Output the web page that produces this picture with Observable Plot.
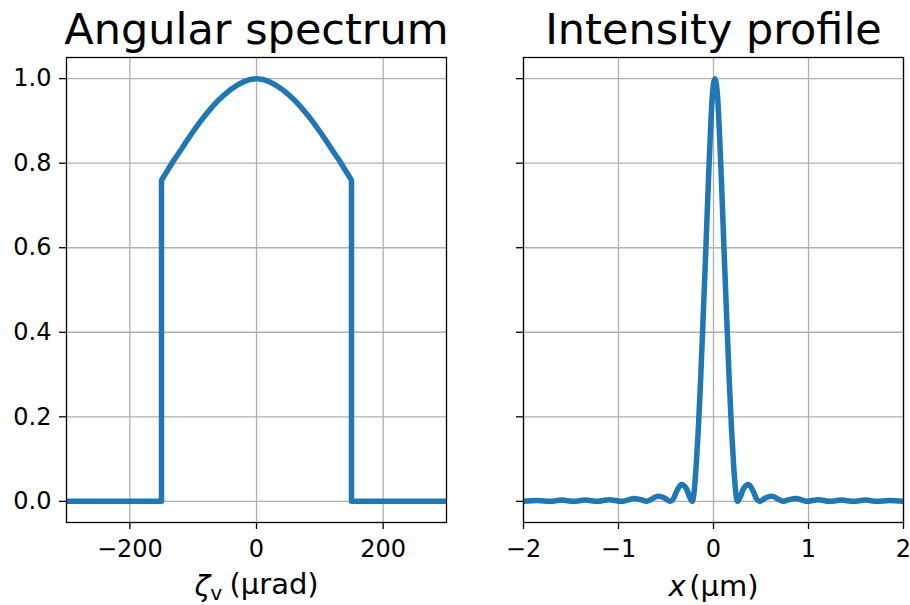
<!DOCTYPE html>
<html>
<head>
<meta charset="utf-8">
<script src="https://cdn.jsdelivr.net/npm/d3@7"></script>
<script src="https://cdn.jsdelivr.net/npm/@observablehq/plot@0.6"></script>
<style>
  html, body { margin: 0; padding: 0; background: white; }
  #wrap { position: relative; width: 910px; height: 605px; background: white; overflow: hidden; }
  .panel { position: absolute; top: 0; }
</style>
</head>
<body>
<div id="wrap">
  <div id="left" class="panel" style="left:0px"></div>
  <div id="right" class="panel" style="left:455px"></div>
</div>
<script>
// ---- Data ----
const leftTitle = "Angular spectrum";
const rightTitle = "Intensity profile";

// Angular spectrum: angle (µrad) and amplitude
const angleX = [-300, -150, -150, -140, -130, -120, -110, -100, -90, -80, -70, -60, -50, -40, -30, -20, -10, 0,
                10, 20, 30, 40, 50, 60, 70, 80, 90, 100, 110, 120, 130, 140, 150, 150, 300];
const angleY = [0, 0, 0.76, 0.784, 0.808, 0.83, 0.853, 0.875, 0.896, 0.915, 0.933, 0.949, 0.963, 0.975, 0.985, 0.993, 0.998, 1.0,
                0.998, 0.993, 0.985, 0.975, 0.963, 0.949, 0.933, 0.915, 0.896, 0.875, 0.853, 0.83, 0.808, 0.784, 0.76, 0, 0];

// Intensity profile: position (µm) and intensity
const posX = [-2.0, -1.85, -1.72, -1.6, -1.47, -1.35, -1.22, -1.1, -0.97, -0.905, -0.835, -0.765, -0.705,
              -0.585, -0.515, -0.455, -0.425, -0.385, -0.34, -0.285, -0.255, -0.225, -0.205, -0.185, -0.16,
              -0.135, -0.11, -0.085, -0.06, -0.035, -0.015, 0.015,
              0.045, 0.065, 0.09, 0.115, 0.14, 0.165, 0.19, 0.215, 0.235, 0.255, 0.285, 0.315, 0.37, 0.415,
              0.455, 0.485, 0.545, 0.615, 0.685, 0.735, 0.795, 0.865, 0.935, 0.985, 1.1, 1.22, 1.35, 1.47,
              1.6, 1.72, 1.85, 2.0];
const intensity = [0.0, 0.002, 0.0, 0.003, 0.0, 0.003, 0.0, 0.004, 0.0, 0.003, 0.007, 0.004, 0.0,
                   0.012, 0.008, 0.0, 0.005, 0.025, 0.04, 0.03, 0.012, 0.0, 0.02, 0.075, 0.17,
                   0.29, 0.43, 0.57, 0.72, 0.86, 0.95, 1.0,
                   0.95, 0.86, 0.72, 0.57, 0.43, 0.29, 0.17, 0.075, 0.02, 0.0, 0.012, 0.03, 0.04, 0.025,
                   0.005, 0.0, 0.008, 0.012, 0.005, 0.0, 0.004, 0.007, 0.003, 0.0, 0.004, 0.0, 0.003, 0.0,
                   0.003, 0.0, 0.002, 0.0];

const leftXTicks = [-200, 0, 200];
const rightXTicks = [-2, -1, 0, 1, 2];
const yTicks = [0, 0.2, 0.4, 0.6, 0.8, 1.0];

// ---- Styling ----
const FONT = "DejaVu Sans";
const BLUE = "#1f77b4";
const GRID = "#b0b0b0";
const minusFmt = d => (d < 0 ? "\u2212" + Math.abs(d) : String(d));

function panel({xs, ys, xDomain, xTicks, title, label, showYLabels, marginLeft, marginRight, curve}) {
  const W = 455, H = 605;
  const plot = Plot.plot({
    width: W,
    height: H,
    marginLeft,
    marginRight,
    marginTop: 57,
    marginBottom: 83,
    style: {fontFamily: FONT, background: "white", overflow: "visible", color: "black"},
    x: {domain: xDomain},
    y: {domain: [-0.05, 1.05]},
    marks: [
      Plot.gridX(xTicks, {stroke: GRID, strokeOpacity: 1, strokeWidth: 1.3}),
      Plot.gridY(yTicks, {stroke: GRID, strokeOpacity: 1, strokeWidth: 1.3}),
      Plot.line(xs, {x: xs, y: ys, stroke: BLUE, strokeWidth: 5.5, curve, clip: true}),
      Plot.frame({stroke: "black", strokeWidth: 1.3}),
      Plot.axisX(xTicks, {tickSize: 7, tickPadding: 10, fontSize: 24, label: null, tickFormat: minusFmt, strokeWidth: 1.3}),
      Plot.axisY(yTicks, {tickSize: 7, tickPadding: 8, fontSize: 24, label: null,
        tickFormat: showYLabels ? d3.format(".1f") : () => "", strokeWidth: 1.3}),
      Plot.text([title], {text: d => d, frameAnchor: "top", dy: -14, lineAnchor: "bottom", fontSize: 43, fill: "black"}),
      Plot.text([label], {text: d => d, frameAnchor: "bottom", dy: 73, lineAnchor: "bottom", fontSize: 29, fill: "black"})
    ]
  });
  return plot;
}

const left = panel({
  xs: angleX, ys: angleY, xDomain: [-300, 300], xTicks: leftXTicks,
  title: leftTitle, label: "LABEL_ZETA", showYLabels: true, marginLeft: 66, marginRight: 9, curve: "linear"
});
const right = panel({
  xs: posX, ys: intensity, xDomain: [-2, 2], xTicks: rightXTicks,
  title: rightTitle, label: "LABEL_X", showYLabels: false, marginLeft: 68, marginRight: 7, curve: "monotone-x"
});

function fixLabel(svg, key, html) {
  d3.select(svg).selectAll("text").each(function() {
    if (this.textContent === key) this.innerHTML = html;
  });
}
fixLabel(left, "LABEL_ZETA",
  '<tspan font-style="italic">ζ</tspan><tspan font-size="0.7em" dy="0.2em">v</tspan><tspan dy="-0.2em" dx="0.25em">(µrad)</tspan>');
fixLabel(right, "LABEL_X",
  '<tspan font-style="italic">x</tspan><tspan dx="0.12em">(µm)</tspan>');

document.getElementById("left").appendChild(left);
document.getElementById("right").appendChild(right);
</script>
</body>
</html>
